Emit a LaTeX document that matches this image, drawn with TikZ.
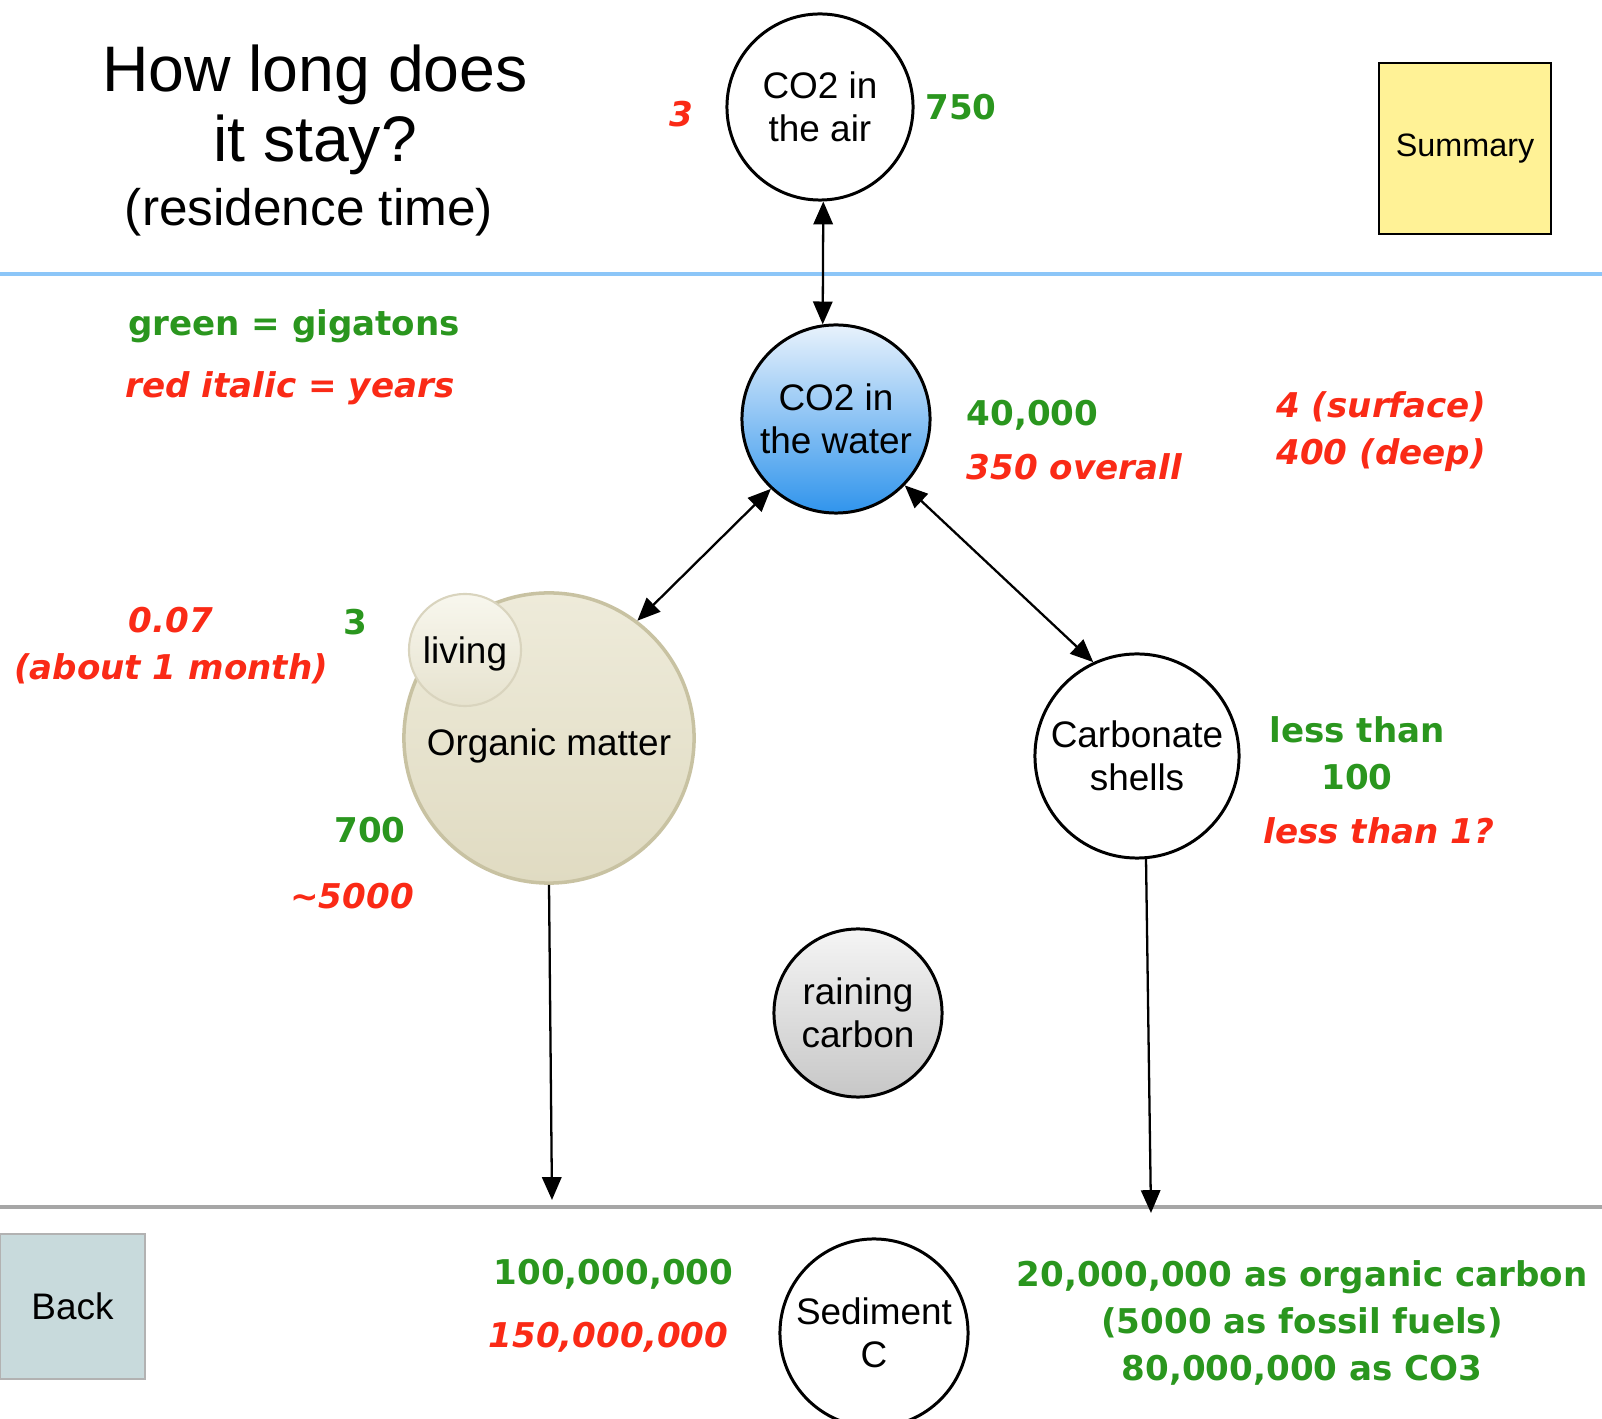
\documentclass[tikz,border=0pt]{standalone}
\usepackage{fontspec}
\setmainfont{Liberation Sans}
\newfontfamily\lblfont{DejaVu Sans}
\usetikzlibrary{arrows.meta}

\definecolor{gtgreen}{RGB}{42,150,30}
\definecolor{yrred}{RGB}{250,42,22}
\definecolor{seablue}{RGB}{140,198,248}
\definecolor{waterhi}{RGB}{232,242,252}
\definecolor{waterlo}{RGB}{48,148,236}
\definecolor{orghi}{RGB}{238,235,218}
\definecolor{orgmid}{RGB}{248,247,238}
\definecolor{orglo}{RGB}{224,219,194}
\definecolor{orgrim}{RGB}{200,194,162}
\definecolor{sumhi}{RGB}{255,242,150}
\definecolor{summid}{RGB}{255,252,215}
\definecolor{backhi}{RGB}{200,218,220}
\definecolor{backmid}{RGB}{234,243,243}

\tikzset{
  pool/.style={circle,draw,line width=0.85pt,inner sep=0pt,align=center,
    minimum size=1.86cm,font=\fontsize{10.5}{12.2}\selectfont},
  gt/.style={text=gtgreen,inner sep=0pt,align=center,
    font=\lblfont\bfseries\fontsize{9.7}{13.4}\selectfont},
  yr/.style={text=yrred,inner sep=0pt,align=center,
    font=\lblfont\bfseries\itshape\fontsize{9.7}{13.4}\selectfont},
  titletext/.style={inner sep=0pt,font=\fontsize{18.3}{20}\selectfont},
  btn/.style={rectangle,inner sep=0pt,font=\fontsize{10.5}{12}\selectfont},
  flow/.style={line width=0.65pt,-{Triangle[length=6.5pt,width=5.5pt]}},
  flows/.style={line width=0.65pt,{Triangle[length=6.5pt,width=5.5pt]}-{Triangle[length=6.5pt,width=5.5pt]}}
}

\begin{document}
\begin{tikzpicture}[x=0.01cm,y=-0.01cm]
\useasboundingbox (0,0) rectangle (1602,1419);
\clip (0,0) rectangle (1602,1419);
\draw[seablue,line width=1.1pt] (0,274) -- (1602,274);
\draw[black!35,line width=0.9pt] (0,1207) -- (1602,1207);

\node[titletext] (title1) at (315,75) {How long does};
\node[titletext] (title2) at (315,145) {it stay?};
\node[titletext,font=\fontsize{14.6}{17}\selectfont] (title3) at (309,212) {(residence time)};

\node[btn,draw,line width=0.8pt,minimum width=1.72cm,minimum height=1.71cm,
  top color=sumhi,middle color=summid,bottom color=sumhi,font=\fontsize{9.2}{11}\selectfont]
  (summary) at (1465,148.5) {Summary};
\node[btn,draw=black!30,line width=0.8pt,minimum width=1.45cm,minimum height=1.45cm,
  top color=backhi,middle color=backmid,bottom color=backhi] (back) at (72.5,1306.5) {Back};

\node[pool,fill=white] (air) at (820,107) {CO2 in\\the air};
\node[pool,minimum size=1.88cm,top color=waterhi,bottom color=waterlo] (water) at (836,419) {CO2 in\\the water};
\node[pool,minimum size=2.9cm,draw=orgrim,line width=1pt,top color=orghi,middle color=orgmid,bottom color=orglo]
  (organic) at (549,738) {\raisebox{-5pt}[0pt][0pt]{Organic matter}};
\node[pool,minimum size=1.12cm,draw=orgrim!70,line width=0.6pt,top color=orgmid,middle color=orghi,bottom color=orglo!80]
  (living) at (465,650) {\raisebox{-3.7pt}[0pt][0pt]{living}};
\node[pool,minimum size=2.04cm,fill=white] (carb) at (1137,756) {Carbonate\\shells};
\node[pool,minimum size=1.68cm,top color=black!4,bottom color=black!22] (rain) at (858,1013) {raining\\carbon};
\node[pool,minimum size=1.88cm,fill=white] (sed) at (874,1333) {Sediment\\C};

\coordinate (orgbed) at (552,1200);
\coordinate (carbbed) at (1151,1213);
\draw[flows] (air.-88) -- (water.98);
\draw[flows] (water.227) -- (organic.53);
\draw[flows] (water.316) -- (carb.115);
\draw[flow] (organic.south) -- (orgbed);
\draw[flow] (carb.-85) -- (carbbed);

\node[yr] (airyr) at (681,114) {3};
\node[gt] (airgt) at (961,107) {750};
\node[gt] (keygt) at (294,326) {green = gigatons};
\node[yr] (keyyr) at (290,388) {red italic = years};
\node[gt,anchor=west] (watergt) at (966,415) {40,000};
\node[yr,anchor=west] (wateryr) at (966,467) {350 overall};
\node[yr] (depthyr) at (1381,432) {4 (surface)\\400 (deep)};
\node[yr] (livingyr) at (171,646) {0.07\\(about 1 month)};
\node[gt] (livinggt) at (355,622) {3};
\node[gt] (organicgt) at (370,830) {700};
\node[yr] (organicyr) at (352,896) {\textasciitilde5000};
\node[gt] (carbgt) at (1357,753) {less than\\100};
\node[yr] (carbyr) at (1379,831) {less than 1?};
\node[gt,anchor=east] (sedgt) at (734,1274) {100,000,000};
\node[yr,anchor=east] (sedyr) at (729,1337) {150,000,000};
\node[gt] (sedparts) at (1302,1323) {20,000,000 as organic carbon\\(5000 as fossil fuels)\\80,000,000 as CO3};
\end{tikzpicture}
\end{document}
